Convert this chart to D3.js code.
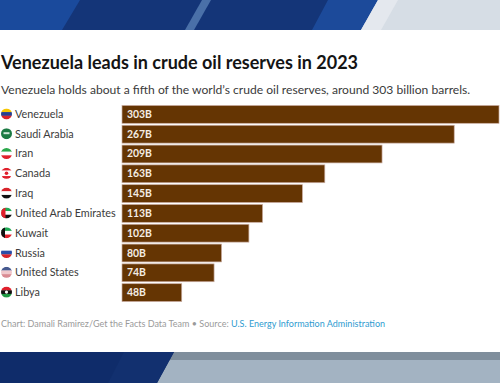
<!DOCTYPE html>
<html>
<head>
<meta charset="utf-8">
<script src="https://cdn.jsdelivr.net/npm/d3@7"></script>
<style>
  html, body { margin: 0; padding: 0; background: #fff; }
  svg { display: block; }
  text { font-family: Lato, sans-serif; }
</style>
</head>
<body>
<div id="chart"></div>
<script>
const countries = ['Venezuela', 'Saudi Arabia', 'Iran', 'Canada', 'Iraq', 'United Arab Emirates', 'Kuwait', 'Russia', 'United States', 'Libya']
const reserves = [303, 267, 209, 163, 145, 113, 102, 80, 74, 48]
const title = 'Venezuela leads in crude oil reserves in 2023'
const subtitle = 'Venezuela holds about a fifth of the world\u2019s crude oil reserves, around 303 billion barrels.'
const creditText = 'Chart: Damali Ramirez/Get the Facts Data Team \u2022 Source: '
const sourceText = 'U.S. Energy Information Administration'

// horizontal flag stripes, top to bottom
const flagStripes = {
  'Venezuela': ['#f7c600', '#25408f', '#d8232a'],
  'Saudi Arabia': ['#1c7a43'],
  'Iran': ['#2aa84a', '#ffffff', '#e0202c'],
  'Canada': ['#e0202c', '#ffffff', '#ffffff', '#e0202c'],
  'Iraq': ['#d8232a', '#ffffff', '#111111'],
  'United Arab Emirates': ['#1faa55', '#ffffff', '#111111'],
  'Kuwait': ['#1faa55', '#ffffff', '#e0202c'],
  'Russia': ['#ffffff', '#2a4fa8', '#d8232a'],
  'United States': ['#46598f', '#f0c8cc', '#d98a92'],
  'Libya': ['#e0202c', '#111111', '#1f9a44']
}

let width = 500
let height = 383
let svg = d3.select('#chart').append('svg').attr('width', width).attr('height', height)

// header and footer bands
function band(points, fill) {
  svg.append('polygon').attr('points', points).attr('fill', fill)
}
band('0,0 500,0 500,30 0,30', '#d6dde5')
band('0,0 378,0 361,30 0,30', '#1c4a9a')
band('0,0 328,0 312,30 0,30', '#143578')
band('0,0 80,0 62,30 0,30', '#1a4a9c')
band('202,0 211,0 194,30 185,30', '#4a70a8')
band('378,0 398,0 381,30 361,30', '#e4e8ee')
svg.append('rect').attr('y', 352).attr('width', width).attr('height', 31).attr('fill', '#a3b3c2')
svg.append('rect').attr('y', 352).attr('width', width).attr('height', 8).attr('fill', '#7f8e9c')
band('0,352 174,352 157,383 0,383', '#0f2c6a')
band('124,352 174,352 157,383 108,383', '#12306f')

svg.append('text').attr('x', 1).attr('y', 69)
  .attr('font-size', 18).attr('font-weight', 700).attr('fill', '#141414').text(title)
svg.append('text').attr('x', 1).attr('y', 94)
  .attr('font-size', 12.1).attr('fill', '#3a3a3a').text(subtitle)

let x = d3.scaleLinear().domain([0, 303]).range([122, 499])
let y = d3.scaleBand().domain(countries).range([103.5, 303.5]).padding(0.1)

let rows = svg.selectAll('.row').data(countries).enter().append('g').attr('class', 'row')

rows.append('rect')
  .attr('x', x(0))
  .attr('y', function (d) { return y(d) })
  .attr('width', function (d, i) { return x(reserves[i]) - x(0) })
  .attr('height', y.bandwidth())
  .attr('fill', '#653503')
  .attr('stroke', '#c9aca0')
  .attr('stroke-width', 0.7)

rows.append('text')
  .attr('x', x(0) + 5)
  .attr('y', function (d) { return y(d) + y.bandwidth() / 2 + 3.5 })
  .attr('font-size', 10.4)
  .attr('font-weight', 700)
  .attr('fill', '#f4ece4')
  .text(function (d, i) { return reserves[i] + 'B' })

rows.append('text')
  .attr('x', 15)
  .attr('y', function (d) { return y(d) + y.bandwidth() / 2 + 3.5 })
  .attr('font-size', 10.8)
  .attr('fill', '#3c3c3c')
  .text(function (d) { return d })

// flags, clipped to circles
let defs = svg.append('defs')
countries.forEach(function (c, i) {
  let cy = y(c) + y.bandwidth() / 2 - 0.5
  defs.append('clipPath').attr('id', 'flag' + i)
    .append('circle').attr('cx', 6.5).attr('cy', cy).attr('r', 5.5)
  let g = svg.append('g').attr('clip-path', 'url(#flag' + i + ')')
  let stripes = flagStripes[c]
  let h = 11 / stripes.length
  stripes.forEach(function (col, j) {
    g.append('rect').attr('x', 1).attr('y', cy - 5.5 + j * h)
      .attr('width', 11).attr('height', h + 0.2).attr('fill', col)
  })
  if (c === 'United Arab Emirates' || c === 'Kuwait') {
    g.append('rect').attr('x', 1).attr('y', cy - 5.5).attr('width', c === 'Kuwait' ? 4 : 4.5).attr('height', 11)
      .attr('fill', c === 'Kuwait' ? '#111111' : '#e0202c')
  }
  if (c === 'Canada') {
    g.append('circle').attr('cx', 6.5).attr('cy', cy).attr('r', 1.8).attr('fill', '#e0202c')
  }
  if (c === 'Saudi Arabia') {
    g.append('rect').attr('x', 3.5).attr('y', cy - 1.5).attr('width', 6).attr('height', 2).attr('fill', '#cfe6d8')
  }
  if (c === 'Libya') {
    g.append('circle').attr('cx', 6.5).attr('cy', cy).attr('r', 1.6).attr('fill', '#ffffff')
  }
})

let foot = svg.append('text').attr('x', 1).attr('y', 327).attr('font-size', 9.02).attr('fill', '#9a9a9a')
foot.append('tspan').text(creditText)
foot.append('tspan').attr('fill', '#2f9bd0').text(sourceText)
</script>
</body>
</html>
